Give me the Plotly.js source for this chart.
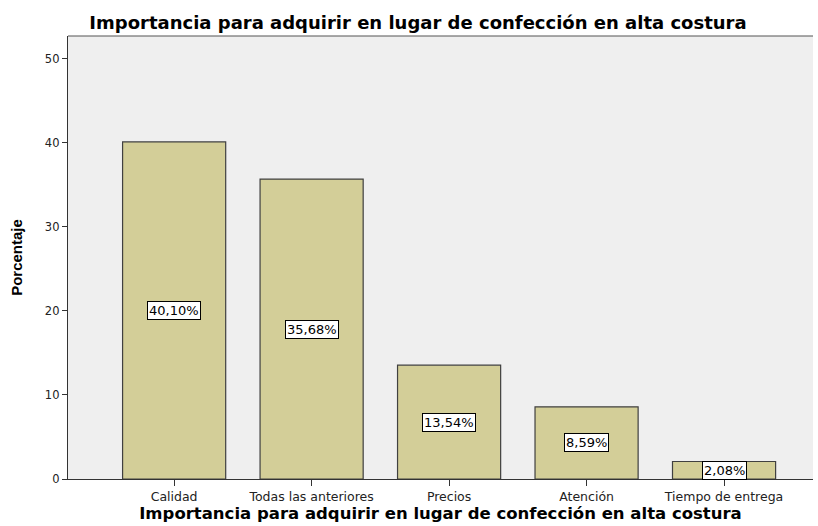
<!DOCTYPE html>
<html>
<head>
<meta charset="utf-8">
<script src="https://cdn.plot.ly/plotly-3.0.1.min.js"></script>
<style>html,body{margin:0;padding:0;background:#fff;}#chart{width:818px;height:526px;}</style>
</head>
<body>
<div id="chart"></div>
<script>
const categories = ["Calidad", "Todas las anteriores", "Precios", "Atención", "Tiempo de entrega"];
const values = [40.10, 35.68, 13.54, 8.59, 2.08];
const labels = ["40,10%", "35,68%", "13,54%", "8,59%", "2,08%"];
const yTicks = [0, 10, 20, 30, 40, 50];

const WIDE = "DejaVu Sans, Verdana, sans-serif";
const NARROW = "Liberation Sans Narrow, Arial Narrow, Liberation Sans, sans-serif";

const trace = {
  type: "bar",
  x: categories.map((c, i) => i),
  y: values,
  width: 0.75,
  marker: {color: "#D3CE98", line: {color: "#404040", width: 1.2}},
  hoverinfo: "skip"
};

const annotations = values.map((v, i) => ({
  x: i, y: v / 2, xref: "x", yref: "y",
  text: labels[i], showarrow: false,
  font: {family: WIDE, size: 13, color: "#000"},
  bgcolor: "#ffffff", bordercolor: "#000000", borderwidth: 1, borderpad: 1
}));

const layout = {
  width: 818, height: 526,
  margin: {l: 68, r: 5, t: 36, b: 47},
  paper_bgcolor: "#ffffff",
  plot_bgcolor: "#EFEFEF",
  showlegend: false,
  title: {
    text: "<b>Importancia para adquirir en lugar de confección en alta costura</b>",
    font: {family: WIDE, size: 18, color: "#000"},
    x: 0.511, xref: "container", xanchor: "center",
    y: 0.956, yref: "container", yanchor: "middle"
  },
  xaxis: {
    range: [-0.772, 4.647],
    tickvals: categories.map((c, i) => i),
    ticktext: categories,
    ticks: "outside", ticklen: 6, tickcolor: "#333", tickwidth: 1,
    tickfont: {family: WIDE, size: 12.5, color: "#222"},
    showgrid: false, zeroline: false,
    showline: true, linecolor: "#333", linewidth: 1.2,
    title: {
      text: "<b>Importancia para adquirir en lugar de confección en alta costura</b>",
      font: {family: WIDE, size: 16.5, color: "#000"},
      standoff: 0
    }
  },
  yaxis: {
    range: [0, 52.7],
    tickvals: yTicks,
    ticks: "outside", ticklen: 5, tickcolor: "#333", tickwidth: 1,
    tickfont: {family: WIDE, size: 11.5, color: "#222"},
    showgrid: false, zeroline: false,
    showline: true, linecolor: "#333", linewidth: 1.2,
    title: {
      text: "<b>Porcentaje</b>",
      font: {family: NARROW, size: 15, color: "#000"},
      standoff: 18
    }
  },
  shapes: [{
    type: "line", xref: "paper", yref: "paper", x0: 0, x1: 1, y0: 1, y1: 1,
    line: {color: "#555", width: 1.2}
  }],
  annotations: annotations
};

Plotly.newPlot("chart", [trace], layout, {displayModeBar: false, staticPlot: true});
</script>
</body>
</html>
